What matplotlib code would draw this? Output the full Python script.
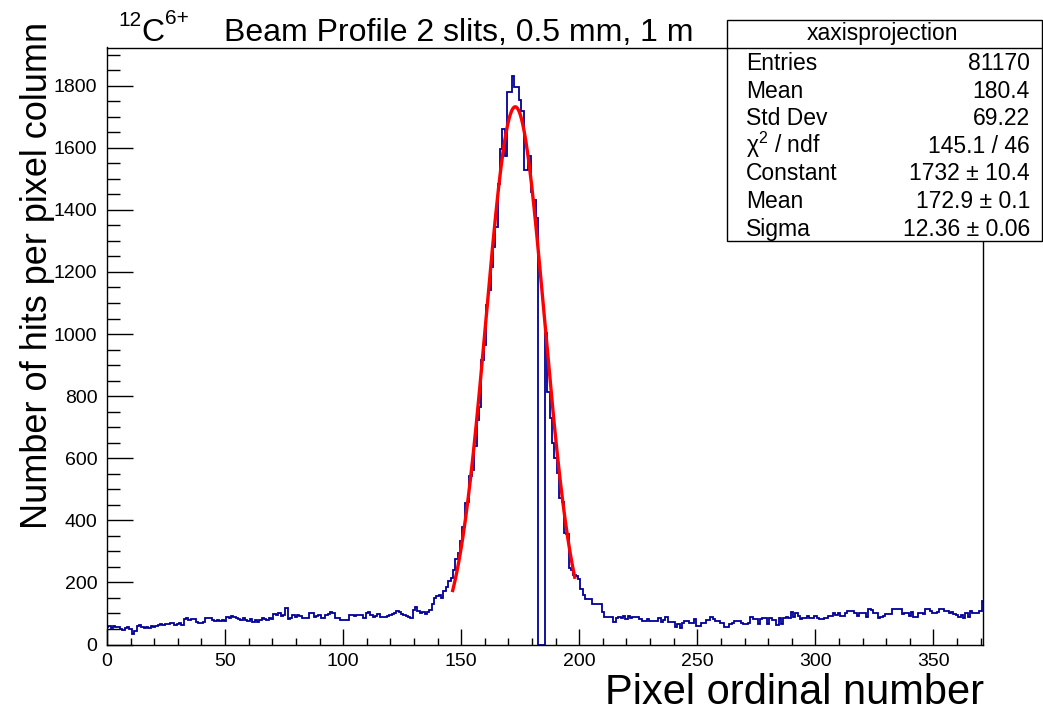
import numpy as np
import matplotlib
matplotlib.use("Agg")
import matplotlib.pyplot as plt
from matplotlib.patches import Rectangle
from matplotlib.lines import Line2D
from matplotlib.ticker import MultipleLocator

plt.rcParams['font.family'] = ['Liberation Sans', 'DejaVu Sans']
plt.rcParams['mathtext.fontset'] = 'custom'
plt.rcParams['mathtext.rm'] = 'Liberation Sans'
plt.rcParams['mathtext.it'] = 'Liberation Sans'
plt.rcParams['mathtext.bf'] = 'Liberation Sans:bold'

# ---------------- data (hits per pixel column, bin k centred on k) ----------------
counts_bg_left = [
    55,
    58, 52, 60, 55, 57, 50, 48, 52, 55, 50,
    35, 45, 60, 62, 55, 52, 56, 54, 58, 55,
    60, 62, 66, 64, 67, 65, 70, 68, 62, 65,
    70, 64, 82, 84, 80, 83, 81, 72, 70, 68,
    74, 85, 84, 86, 80, 76, 78, 75, 80, 77,
    88, 85, 92, 90, 86, 82, 78, 85, 78, 75,
    82, 74, 80, 72, 78, 85, 82, 80, 86, 83,
    98, 95, 100, 92, 96, 118, 82, 85, 95, 90,
    95, 92, 84, 84, 86, 102, 100, 90, 92, 96,
    84, 86, 96, 98, 105, 100, 84, 86, 79, 80,
    78, 80, 96, 95, 92, 94, 96, 94, 84, 102,
    104, 95, 90, 92, 98, 90, 88, 90, 91, 96,
    98, 100, 108, 106, 98, 96, 92, 90, 84, 110,
    122, 108, 102, 104, 98, 104,
]
counts_rise = [
    112, 130, 150, 155, 160, 150, 172, 185, 205, 215,
    240, 275, 295, 332, 380, 455, 460, 542, 563, 640,
    723, 766, 916, 964, 1093, 1141, 1216, 1280, 1345, 1484,
    1597, 1661, 1572, 1779, 1779,
]
counts_top = [1832, 1795, 1795, 1754, 1720, 1529, 1529, 1575, 1457, 1433, 1375]
counts_dead = [0, 0, 0]
counts_fall = [
    1002, 814, 729, 648, 600, 552, 471, 460, 359, 355,
    245, 241, 225, 220, 210, 180, 160, 146, 146, 146,
    129, 129, 129, 129, 105, 90, 88, 90, 89,
]
counts_bg_right = [
    71, 86, 89, 84, 93, 82, 93, 84, 89, 89,
    89, 82, 76, 76, 82, 76, 76, 77, 76, 84,
    72, 80, 87, 74, 74, 73, 57, 65, 54, 68,
    76, 76, 68, 68, 83, 60, 60, 68, 68, 80,
    80, 89, 82, 76, 76, 68, 68, 57, 57, 65,
    68, 76, 76, 76, 68, 65, 65, 68, 89, 82,
    82, 65, 82, 86, 86, 65, 86, 80, 80, 63,
    86, 65, 84, 89, 84, 106, 89, 103, 93, 82,
    86, 86, 93, 84, 84, 93, 84, 82, 82, 86,
    86, 93, 93, 103, 95, 103, 93, 93, 103, 108,
    108, 108, 100, 93, 100, 100, 100, 89, 114, 111,
    100, 100, 84, 89, 93, 97, 97, 97, 115, 115,
    114, 114, 97, 103, 103, 93, 106, 89, 89, 100,
    103, 97, 114, 114, 108, 100, 100, 106, 114, 114,
    108, 108, 103, 106, 97, 95, 89, 95, 84, 103,
    89, 108, 100, 100, 103, 108, 140,
]

x_range = (0, 371)
y_range = (0, 1923)
x_major, x_minor = 50, 10
y_major, y_minor = 200, 50

fit_constant = 1732
fit_mean = 172.9
fit_sigma = 12.36
fit_range = (146.4, 198.1)

title_isotope = "12"
title_element = "C"
title_charge = "6+"
title_rest = "Beam Profile 2 slits, 0.5 mm, 1 m"
x_title = "Pixel ordinal number"
y_title = "Number of hits per pixel column"

stats_title = "xaxisprojection"
stats_names = ["Entries", "Mean", "Std Dev", "\u03c7$^{2}$ / ndf", "Constant", "Mean", "Sigma"]
stats_values = ["81170", "180.4", "69.22", "145.1 / 46",
                "1732 \u00b1 10.4", "172.9 \u00b1 0.1", "12.36 \u00b1 0.06"]

# ---------------- figure ----------------
W, H = 1043, 716
fig = plt.figure(figsize=(W / 100, H / 100), dpi=100)


def fx(px):
    return px / W


def fy(py):
    return 1 - py / H


ax = fig.add_axes([fx(107), fy(644.5), fx(983) - fx(107), fy(47.5) - fy(644.5)])

counts = np.array(counts_bg_left + counts_rise + counts_top + counts_dead
                  + counts_fall + counts_bg_right, dtype=float)
edges = np.arange(len(counts) + 1) - 0.5
ax.stairs(counts, edges, baseline=0, color='#000099', lw=1.3, zorder=2)

xf = np.linspace(fit_range[0], fit_range[1], 400)
yf = fit_constant * np.exp(-0.5 * ((xf - fit_mean) / fit_sigma) ** 2)
ax.plot(xf, yf, color='#ff0000', lw=2.4, zorder=3)

ax.set_xlim(*x_range)
ax.set_ylim(*y_range)
ax.xaxis.set_major_locator(MultipleLocator(x_major))
ax.xaxis.set_minor_locator(MultipleLocator(x_minor))
ax.yaxis.set_major_locator(MultipleLocator(y_major))
ax.yaxis.set_minor_locator(MultipleLocator(y_minor))
ax.tick_params(which='both', direction='in', top=False, right=False,
               labelsize=14, width=1.0, color='black')
ax.tick_params(axis='x', which='major', length=11.5, pad=6)
ax.tick_params(axis='x', which='minor', length=5)
ax.tick_params(axis='y', which='major', length=18.5, pad=7)
ax.tick_params(axis='y', which='minor', length=9.3)
for s in ax.spines.values():
    s.set_linewidth(1.0)

# ---- title built from pieces (superscripts) ----
renderer = fig.canvas.get_renderer()
base_y = 41
x_px = 118
t = fig.text(fx(x_px), fy(base_y - 15), title_isotope, fontsize=15, ha='left', va='baseline')
x_px = t.get_window_extent(renderer).x1 + 0.5
t = fig.text(fx(x_px), fy(base_y), title_element, fontsize=23, ha='left', va='baseline')
x_px = t.get_window_extent(renderer).x1 + 0.5
t = fig.text(fx(x_px), fy(base_y - 17), title_charge, fontsize=15, ha='left', va='baseline')
fig.text(fx(224), fy(base_y), title_rest, fontsize=23, ha='left', va='baseline')

fig.text(fx(984), fy(693), x_title, fontsize=30, ha='right', va='center')
fig.text(fx(38), fy(22), y_title, fontsize=26, rotation=90, ha='center', va='top')

# ---- stats box ----
box_l, box_r, box_t, box_b, box_sep = 727, 1042, 20, 241, 47.5
fig.add_artist(Rectangle((fx(box_l), fy(box_b)), fx(box_r) - fx(box_l), fy(box_t) - fy(box_b),
                         transform=fig.transFigure, facecolor='white', edgecolor='black',
                         lw=1.0, zorder=5))
fig.add_artist(Line2D([fx(box_l), fx(box_r)], [fy(box_sep), fy(box_sep)],
                      transform=fig.transFigure, color='black', lw=1.0, zorder=6))
fig.text(fx((box_l + box_r) / 2 - 2), fy(40), stats_title, fontsize=16.5,
         ha='center', va='baseline', zorder=7)
for i, (n, v) in enumerate(zip(stats_names, stats_values)):
    yb = 70 + 27.6 * i
    fig.text(fx(746), fy(yb), n, fontsize=16.5, ha='left', va='baseline', zorder=7)
    fig.text(fx(1030), fy(yb), v, fontsize=16.5, ha='right', va='baseline', zorder=7)

fig.savefig('out.png', dpi=100)
